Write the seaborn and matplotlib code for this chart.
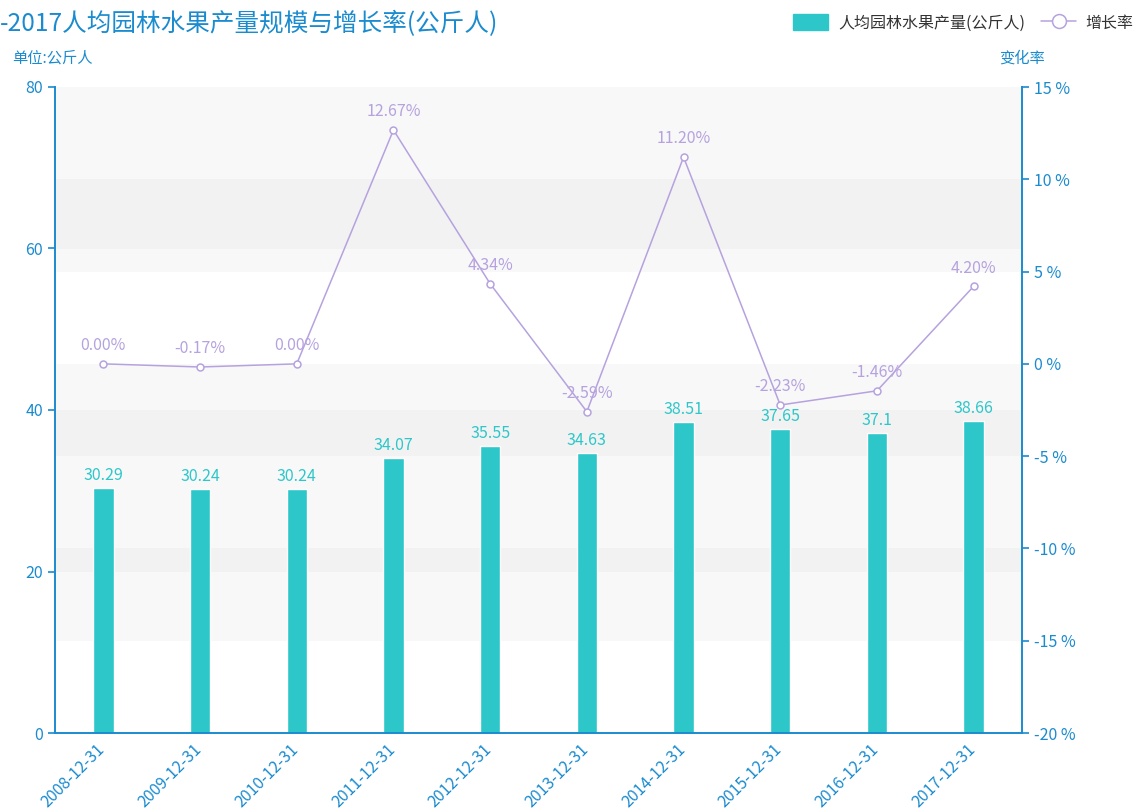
import matplotlib
matplotlib.use("Agg")
import matplotlib.pyplot as plt
from matplotlib.patches import Patch, Rectangle
from matplotlib.lines import Line2D
from matplotlib.transforms import blended_transform_factory, ScaledTranslation
import seaborn as sns
import pandas as pd

# 数据
dates = ['2008-12-31', '2009-12-31', '2010-12-31', '2011-12-31', '2012-12-31',
         '2013-12-31', '2014-12-31', '2015-12-31', '2016-12-31', '2017-12-31']
output_per_capita = [30.29, 30.24, 30.24, 34.07, 35.55, 34.63, 38.51, 37.65, 37.1, 38.66]
growth_rate = [0.00, -0.17, 0.00, 12.67, 4.34, -2.59, 11.20, -2.23, -1.46, 4.20]

df = pd.DataFrame({'date': dates, 'value': output_per_capita, 'rate': growth_rate})

sns.set_style("white")
plt.rcParams['font.family'] = ['Noto Sans CJK SC', 'DejaVu Sans']

BLUE = '#1a8bcf'
TEAL = '#2ec7c9'
PURPLE = '#b6a2de'

fig = plt.figure(figsize=(11.39, 8.09), dpi=100)
ax = fig.add_axes([55 / 1139, 76 / 809, 967 / 1139, 646 / 809])
ax2 = ax.twinx()

ax.set_ylim(0, 80)
ax2.set_ylim(-20, 15)

# 分隔区域（左右两个坐标轴的区域叠加，都画在柱子下面）
for lo, hi in [(20, 40), (60, 80)]:
    ax.axhspan(lo, hi, color='#c8c8c8', alpha=0.11, lw=0, zorder=0)
trans = blended_transform_factory(ax.transAxes, ax2.transData)
for lo, hi in [(-15, -10), (-5, 0), (5, 10)]:
    ax.add_patch(Rectangle((0, lo), 1, hi - lo, transform=trans,
                           facecolor='#c8c8c8', alpha=0.11, lw=0, zorder=0))

sns.barplot(data=df, x='date', y='value', color=TEAL, saturation=1,
            width=0.21, ax=ax, zorder=2)
ax.bar_label(ax.containers[0], labels=[f"{v:g}" for v in output_per_capita],
             color=TEAL, fontsize=11.5, padding=3)

sns.pointplot(data=df, x='date', y='rate', color=PURPLE, ax=ax2,
              markers='o', linewidth=1.1, markersize=5,
              markerfacecolor='white', markeredgewidth=1.1)
for i, r in enumerate(growth_rate):
    ax2.annotate(f"{r:.2f}%", (i, r), xytext=(0, 7), textcoords='offset points',
                 ha='center', va='bottom', color=PURPLE, fontsize=11.5)

ax.set_xlim(-0.5, len(dates) - 0.5)
ax2.set_xlim(-0.5, len(dates) - 0.5)
ax.set_ylim(0, 80)
ax.set_yticks([0, 20, 40, 60, 80])
ax2.set_ylim(-20, 15)
ax2.set_yticks(range(-20, 16, 5))
ax2.set_yticklabels([f"{t} %" for t in range(-20, 16, 5)])

ax.set_xlabel('')
ax.set_ylabel('')
ax2.set_xlabel('')
ax2.set_ylabel('')

# x 轴刻度在分界处
ax.set_xticks(range(len(dates)))
ax.set_xticklabels(dates, rotation=45, ha='right', va='top', rotation_mode='anchor')
ax.set_xticks([i - 0.5 for i in range(len(dates) + 1)], minor=True)
ax.tick_params(axis='x', which='major', length=0, pad=6, colors=BLUE, labelsize=11.5)
ax.tick_params(axis='x', which='minor', length=5, width=1.2, color=BLUE, direction='out')
ax.tick_params(axis='y', length=5, width=1.2, colors=BLUE, labelsize=11.5, direction='out')
ax2.tick_params(axis='y', length=5, width=1.2, colors=BLUE, labelsize=11.5, direction='out')
shift = ScaledTranslation(-7 / 100, 0, fig.dpi_scale_trans)
for lab in ax.get_xticklabels():
    lab.set_transform(lab.get_transform() + shift)

for a in (ax, ax2):
    for s in a.spines.values():
        s.set_visible(False)
ax.spines['left'].set_visible(True)
ax.spines['bottom'].set_visible(True)
ax2.spines['right'].set_visible(True)
for s in (ax.spines['left'], ax.spines['bottom'], ax2.spines['right']):
    s.set_color(BLUE)
    s.set_linewidth(1.4)
ax.grid(False)
ax2.grid(False)
ax.set_facecolor('white')

fig.text(0.0, 1 - 24 / 809, "-2017人均园林水果产量规模与增长率(公斤人)",
         ha='left', va='center', fontsize=17.7, color=BLUE)
fig.text(12 / 1139, 1 - 58 / 809, "单位:公斤人", ha='left', va='center',
         fontsize=11, color=BLUE)
fig.text(1022 / 1139, 1 - 58 / 809, "变化率", ha='center', va='center',
         fontsize=11, color=BLUE)

handles = [Patch(facecolor=TEAL, edgecolor=TEAL),
           Line2D([0], [0], color=PURPLE, lw=1.1, marker='o', markersize=10,
                  markerfacecolor='white', markeredgewidth=1.1)]
fig.legend(handles, ['人均园林水果产量(公斤人)', '增长率'], loc='upper right',
           bbox_to_anchor=(1.008, 1.0), ncol=2, frameon=False, fontsize=11.5,
           handlelength=2.2, handleheight=1.1, columnspacing=1.0,
           handletextpad=0.6, labelcolor='#333333')

fig.savefig('out.png', dpi=100)
